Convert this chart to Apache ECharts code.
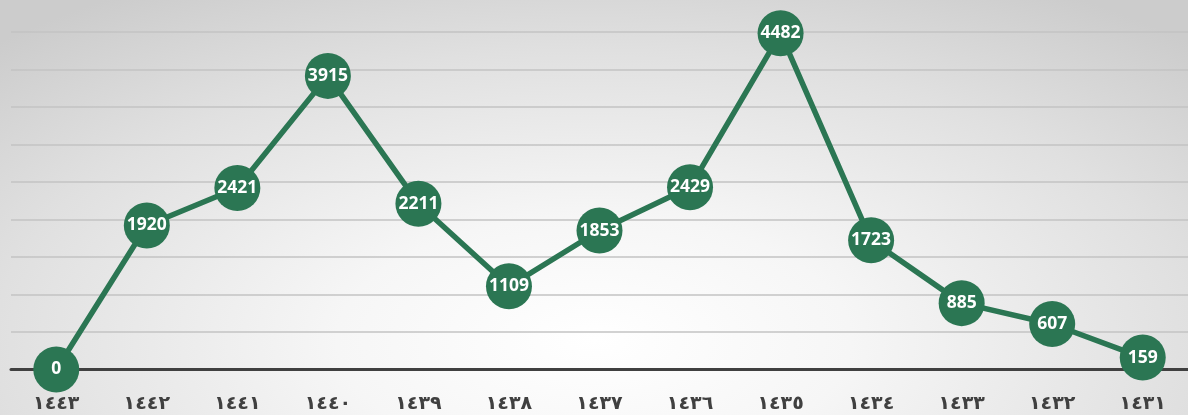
<!DOCTYPE html>
<html><head><meta charset="utf-8">
<script src="https://cdn.jsdelivr.net/npm/echarts@6/dist/echarts.min.js"></script>
<style>
html,body{margin:0;padding:0;}
#c{width:1188px;height:415px;background:radial-gradient(ellipse 72% 100% at 50% 82%, #ffffff 0%, #f6f6f6 30%, #e0e0e0 70%, #cccccc 100%);}
</style></head><body>
<div id="c"></div>
<script>
const categories = ['١٤٤٣','١٤٤٢','١٤٤١','١٤٤٠','١٤٣٩','١٤٣٨','١٤٣٧','١٤٣٦','١٤٣٥','١٤٣٤','١٤٣٣','١٤٣٢','١٤٣١'];
const values = [0,1920,2421,3915,2211,1109,1853,2429,4482,1723,885,607,159];
const chart = echarts.init(document.getElementById('c'), null, {renderer:'canvas'});
chart.setOption({
  backgroundColor:'transparent',
  grid:{left:11,right:0,top:32,bottom:45.5,containLabel:false},
  xAxis:{type:'category',data:categories,boundaryGap:true,
    axisLine:{lineStyle:{color:'#404040',width:3}},
    axisTick:{show:false},
    axisLabel:{color:'#404040',fontFamily:'DejaVu Sans',fontWeight:'bold',fontSize:19,margin:25}},
  yAxis:{type:'value',min:0,max:4500,interval:500,
    axisLabel:{show:false},axisLine:{show:false},axisTick:{show:false},
    splitLine:{lineStyle:{color:'#c3c3c3',width:1.5}}},
  series:[{type:'line',data:values,symbol:'circle',symbolSize:46,
    lineStyle:{color:'#2b7653',width:5.5},
    itemStyle:{color:'#2b7653'},
    label:{show:true,position:'inside',color:'#ffffff',fontFamily:'Open Sans',fontWeight:'bold',fontSize:17.5},
    z:3}]
});
</script>
</body></html>
